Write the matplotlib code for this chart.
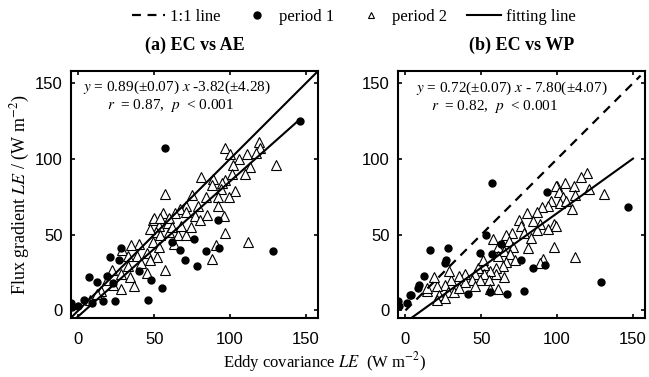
import matplotlib
matplotlib.use("Agg")
import matplotlib.pyplot as plt
from matplotlib.lines import Line2D

plt.rcParams['font.family'] = ['Liberation Serif', 'DejaVu Serif']
plt.rcParams['mathtext.fontset'] = 'stix'

# (a) EC vs AE  -- period 1 (dots)
a_p1_x = [57, 146, 92, 76, 67, 84, 93, 128, 70, 78, 62, 28, 21, 27, 40, 48, 55, 46,
          7, 12, 23, 24, 16, 4, -5, 0, 9, -4, 19]
a_p1_y = [107, 125, 60, 47, 40, 39, 41, 39, 33, 29, 45, 41, 35, 33, 26, 20, 15, 7,
          22, 19, 18, 6, 6, 7, 5, 3, 5, 2, 23]
# (a) period 2 (triangles)
a_p2_x = [119, 120, 97, 100, 111, 117, 106, 102, 113, 130, 110, 101, 97, 81, 89, 88,
          95, 94, 103, 99, 92, 84, 75, 92, 79, 71, 67, 57, 64, 71, 77, 80, 96, 56, 49,
          53, 59, 51, 54, 60, 66, 71, 63, 97, 112, 91, 88, 57, 52, 45, 40, 35, 39, 29,
          33, 22, 28, 34, 37, 45, 41, 28, 23, 19, 15, 8, 12, 33, 47, 49, 53, 47, 50,
          54, 60, 62, 68, 74, 85]
a_p2_y = [111, 107, 107, 103, 103, 104, 100, 96, 95, 96, 90, 90, 86, 88, 87, 83, 84,
          80, 79, 75, 75, 75, 76, 69, 69, 69, 67, 77, 64, 65, 62, 60, 62, 64, 60, 56,
          58, 52, 50, 52, 50, 50, 44, 51, 45, 43, 34, 27, 35, 38, 44, 43, 36, 40, 36,
          27, 24, 22, 16, 25, 31, 14, 17, 20, 13, 7, 11, 29, 33, 45, 42, 54, 61, 61,
          61, 55, 56, 55, 63]

# (b) EC vs WP -- period 1 (dots)
b_p1_x = [57, 147, 93, 53, 63, 49, 57, 28, 27, 26, 16, 12, 9, 8, 3, -5, 1, -4, -6, 76,
          84, 92, 78, 67, 56, 41, 129, 4]
b_p1_y = [84, 68, 78, 50, 44, 38, 37, 41, 33, 31, 40, 23, 17, 15, 10, 6, 5, 3, 5, 33,
          28, 30, 13, 11, 12, 11, 19, 10]
# (b) period 2 (triangles)
b_p2_x = [120, 116, 105, 100, 99, 111, 121, 131, 101, 112, 104, 96, 102, 106, 110, 94,
          90, 87, 80, 84, 75, 89, 98, 94, 99, 87, 76, 78, 83, 70, 66, 58, 68, 71, 81,
          98, 91, 89, 112, 61, 65, 69, 61, 72, 66, 64, 60, 65, 60, 56, 52, 52, 48, 51,
          46, 44, 49, 55, 61, 39, 39, 35, 30, 29, 26, 21, 19, 14, 14, 22, 28, 32, 26,
          21, 35, 46, 56]
b_p2_y = [91, 88, 84, 82, 82, 82, 80, 77, 78, 76, 75, 72, 71, 72, 67, 69, 68, 65, 64,
          59, 60, 57, 57, 54, 56, 53, 56, 51, 48, 51, 50, 47, 46, 42, 41, 42, 34, 31,
          35, 42, 39, 37, 36, 33, 32, 29, 28, 22, 24, 26, 30, 24, 28, 33, 24, 20, 20,
          20, 14, 19, 24, 23, 20, 26, 17, 16, 22, 13, 15, 10, 12, 12, 8, 7, 15, 16, 14]

# fitted lines
a_slope, a_icpt = 0.89, -3.82
b_slope, b_icpt = 0.72, -7.80

fig = plt.figure(figsize=(6.49, 3.77), dpi=100)
ax1 = fig.add_axes([0.109, 0.1565, 0.381, 0.655])
ax2 = fig.add_axes([0.613, 0.1565, 0.381, 0.655])

def style_axis(ax):
    ax.set_xlim(-5, 158)
    ax.set_ylim(-5, 158)
    ax.set_xticks([0, 50, 100, 150])
    ax.set_yticks([0, 50, 100, 150])
    ax.tick_params(direction='in', top=True, right=True, length=3, width=1.2,
                   labelsize=12, pad=6)
    ax.tick_params(axis='x', pad=10)
    for lab in ax.get_xticklabels() + ax.get_yticklabels():
        lab.set_family('Liberation Sans')
    for s in ax.spines.values():
        s.set_linewidth(1.5)

# panel a
ax1.plot([-5, 158], [-5, 158], color='black', lw=1.5, zorder=3)
fx = [-5, 146]
ax1.plot(fx, [a_slope * v + a_icpt for v in fx], color='black', lw=1.5, zorder=3)
ax1.plot(a_p2_x, a_p2_y, '^', ms=6.5, mfc='white', mec='black', mew=0.8, ls='none', zorder=2)
ax1.plot(a_p1_x, a_p1_y, 'o', ms=5, color='black', ls='none', zorder=4)
style_axis(ax1)
ax1.text(65, 147.5, r"$y$ = 0.89(±0.07) $x$ -3.82(±4.28)", ha='center', va='center', fontsize=11)
ax1.text(61, 135.5, r"$r$  = 0.87,  $p$  < 0.001", ha='center', va='center', fontsize=11)
ax1.set_title("(a) EC vs AE", fontweight='bold', fontsize=13, pad=15)

# panel b
ax2.plot([0, 155], [0, 155], color='black', lw=1.6, ls=(0, (4, 3)), zorder=3)
fx = [0, 150]
ax2.plot(fx, [b_slope * v + b_icpt for v in fx], color='black', lw=1.5, zorder=3)
ax2.plot(b_p2_x, b_p2_y, '^', ms=6.5, mfc='white', mec='black', mew=0.8, ls='none', zorder=2)
ax2.plot(b_p1_x, b_p1_y, 'o', ms=5, color='black', ls='none', zorder=4)
style_axis(ax2)
ax2.text(70, 146.5, r"$y$ = 0.72(±0.07) $x$ - 7.80(±4.07)", ha='center', va='center', fontsize=11)
ax2.text(59, 134.5, r"$r$  = 0.82,  $p$  < 0.001", ha='center', va='center', fontsize=11)
ax2.set_title("(b) EC vs WP", fontweight='bold', fontsize=13, pad=15)

ax1.set_ylabel(r"Flux gradient $LE$ / (W m$^{-2}$)", fontsize=13, labelpad=2)
fig.text(0.5, 0.04, r"Eddy covariance $LE$  (W m$^{-2}$)", ha='center', va='center', fontsize=12)

handles = [
    Line2D([], [], color='black', lw=1.6, ls=(0, (4, 3))),
    Line2D([], [], marker='o', ms=5, color='black', ls='none'),
    Line2D([], [], marker='^', ms=5, mfc='white', mec='black', mew=0.8, ls='none'),
    Line2D([], [], color='black', lw=1.5),
]
fig.legend(handles, ["1:1 line", "period 1", "period 2", "fitting line"],
           loc='center', bbox_to_anchor=(0.545, 0.955), ncol=4, frameon=False,
           fontsize=12, handlelength=2.0, handletextpad=0.3, columnspacing=1.2)

fig.savefig("out.png", dpi=100)
